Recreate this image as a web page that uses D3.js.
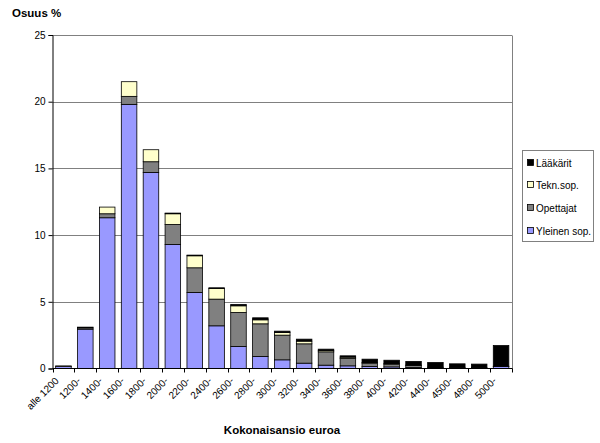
<!DOCTYPE html>
<html>
<head>
<meta charset="utf-8">
<script src="https://cdn.jsdelivr.net/npm/d3@7"></script>
<style>
  body { margin: 0; background: #fff; }
  svg { display: block; font-family: "Liberation Sans", Arial, sans-serif; }
</style>
</head>
<body>
<svg id="chart" width="600" height="443"></svg>
<script>
const categories = ["alle 1200","1200-","1400-","1600-","1800-","2000-","2200-","2400-","2600-","2800-","3000-","3200-","3400-","3600-","3800-","4000-","4200-","4400-","4500-","4800-","5000-"];
const yleinen   = [0.15, 2.95, 11.3, 19.8, 14.7, 9.3, 5.7, 3.2, 1.65, 0.9, 0.65, 0.4, 0.25, 0.2, 0.15, 0.12, 0.08, 0.05, 0.03, 0.03, 0.15];
const opettajat = [0.02, 0.1, 0.3, 0.6, 0.8, 1.5, 1.85, 2.0, 2.55, 2.45, 1.85, 1.45, 1.0, 0.55, 0.25, 0.2, 0.15, 0.05, 0.02, 0.02, 0.02];
const tekn      = [0.02, 0.05, 0.5, 1.1, 0.9, 0.8, 0.9, 0.8, 0.5, 0.3, 0.2, 0.2, 0.1, 0.1, 0.05, 0.05, 0.02, 0.0, 0.0, 0.0, 0.0];
const laakarit  = [0.0, 0.0, 0.0, 0.0, 0.0, 0.05, 0.05, 0.05, 0.1, 0.15, 0.1, 0.15, 0.1, 0.1, 0.25, 0.25, 0.28, 0.35, 0.3, 0.28, 1.55];
const yTicks = [0, 5, 10, 15, 20, 25];

const seriesNames = ["Yleinen sop.", "Opettajat", "Tekn.sop.", "Lääkärit"];
const seriesColors = ["#9999FF", "#808080", "#FFFFCC", "#000000"];
const seriesData = [yleinen, opettajat, tekn, laakarit];

const rows = categories.map((c, i) => {
  const r = { cat: c };
  seriesNames.forEach((s, j) => r[s] = seriesData[j][i]);
  return r;
});

const svg = d3.select("#chart");
const x0 = 52.5, x1 = 512;
const yTop = 35, yBot = 368.5;

const x = d3.scaleBand().domain(categories).range([x0, x1]).paddingInner(0.29).paddingOuter(0.145);
const y = d3.scaleLinear().domain([0, 25]).range([yBot, yTop]);

// gridlines
svg.append("g").selectAll("line").data(yTicks.filter(d => d > 0)).join("line")
  .attr("x1", x0).attr("x2", x1)
  .attr("y1", d => Math.round(y(d)) + 0.5).attr("y2", d => Math.round(y(d)) + 0.5)
  .attr("stroke", "#808080").attr("stroke-width", 1);

// right border
svg.append("line").attr("x1", x1 + 0.5).attr("x2", x1 + 0.5)
  .attr("y1", Math.round(yTop) + 0.5).attr("y2", yBot)
  .attr("stroke", "#808080");

// stacked bars
const stack = d3.stack().keys(seriesNames);
const stacked = stack(rows);
svg.append("g").selectAll("g").data(stacked).join("g")
  .attr("fill", (d, i) => seriesColors[i])
  .selectAll("rect").data(d => d).join("rect")
  .attr("x", d => x(d.data.cat))
  .attr("width", x.bandwidth())
  .attr("y", d => y(d[1]))
  .attr("height", d => Math.max(0, y(d[0]) - y(d[1])))
  .attr("stroke", "#000")
  .attr("stroke-width", 0.8);

// y axis
const yAxis = d3.axisLeft(y).tickValues(yTicks).tickSize(4).tickPadding(3);
const yg = svg.append("g").attr("transform", `translate(${x0},0)`).call(yAxis);
yg.select(".domain").attr("stroke", "#000");
yg.selectAll(".tick line").attr("stroke", "#000");
yg.selectAll("text").attr("font-size", 10).attr("fill", "#000")
  .attr("font-family", "Liberation Sans, Arial, sans-serif");

// x axis with ticks between categories
const xg = svg.append("g");
xg.append("line").attr("x1", x0).attr("x2", x1 + 0.5)
  .attr("y1", yBot).attr("y2", yBot).attr("stroke", "#000");
const boundaries = d3.range(categories.length + 1).map(i => x0 + i * (x1 - x0) / categories.length);
xg.selectAll("line.tk").data(boundaries).join("line").attr("class", "tk")
  .attr("x1", d => Math.round(d) + 0.5).attr("x2", d => Math.round(d) + 0.5)
  .attr("y1", yBot).attr("y2", yBot + 4).attr("stroke", "#000");
xg.selectAll("text").data(categories).join("text")
  .attr("transform", d => `translate(${x(d) + x.bandwidth() / 2 - 4},${yBot + 13}) rotate(-45)`)
  .attr("text-anchor", "end")
  .attr("font-size", 10)
  .attr("fill", "#000")
  .text(d => d);

// titles
svg.append("text").attr("x", 12).attr("y", 17)
  .attr("font-size", 11.5).attr("font-weight", "bold").text("Osuus %");
svg.append("text").attr("x", 282).attr("y", 434).attr("text-anchor", "middle")
  .attr("font-size", 11.5).attr("font-weight", "bold").text("Kokonaisansio euroa");

// legend
const lg = svg.append("g");
lg.append("rect").attr("x", 522.5).attr("y", 150.5).attr("width", 71).attr("height", 91)
  .attr("fill", "#fff").attr("stroke", "#808080");
const legendOrder = [3, 2, 1, 0];
const legendY = [163, 185, 208, 231];
legendOrder.forEach((si, k) => {
  lg.append("rect").attr("x", 527.5).attr("y", legendY[k] - 3.5).attr("width", 6).attr("height", 6)
    .attr("fill", seriesColors[si]).attr("stroke", "#000").attr("stroke-width", 0.8);
  lg.append("text").attr("x", 536).attr("y", legendY[k] + 3.5)
    .attr("font-size", 10).attr("fill", "#000").text(seriesNames[si]);
});
</script>
</body>
</html>
